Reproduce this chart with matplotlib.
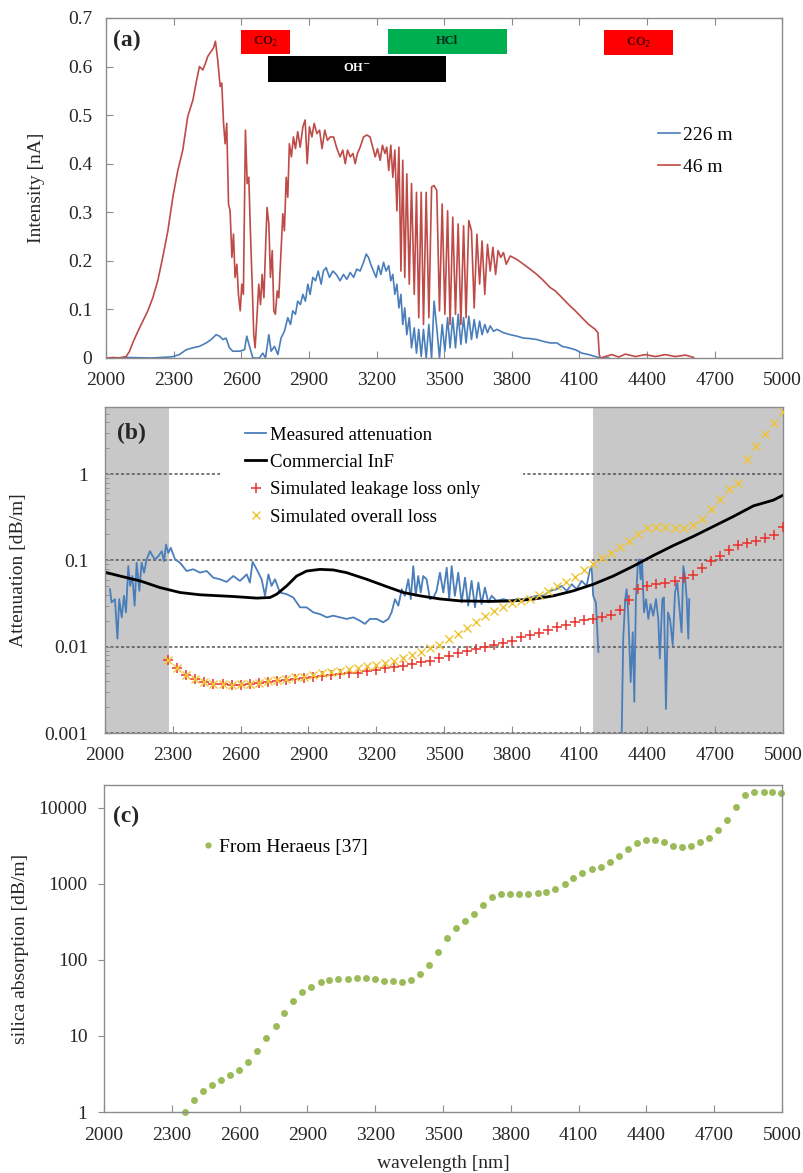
import numpy as np
import matplotlib
matplotlib.use("Agg")
import matplotlib.pyplot as plt
from matplotlib.patches import Rectangle
from matplotlib.ticker import FuncFormatter, LogLocator, NullFormatter

plt.rcParams['font.family'] = ['Liberation Serif', 'DejaVu Serif']
plt.rcParams['font.size'] = 14

# ---------------- data: panel (a) intensity spectra ----------------
wl_46m = [2000, 2030, 2059, 2089, 2104, 2118, 2141, 2163, 2185, 2207, 2229, 2251, 2274, 2296,
          2318, 2340, 2362, 2385, 2399, 2414, 2429, 2441, 2451, 2466, 2476, 2485, 2495, 2506,
          2513, 2521, 2528, 2535, 2543, 2550, 2558, 2565, 2572, 2580, 2587, 2595, 2602, 2609,
          2618, 2626, 2633, 2640, 2648, 2655, 2661, 2669, 2677, 2685, 2692, 2700, 2707, 2714,
          2722, 2729, 2737, 2744, 2751, 2759, 2766, 2776, 2784, 2791, 2799, 2806, 2813, 2822,
          2831, 2840, 2850, 2861, 2873, 2883, 2892, 2902, 2913, 2923, 2935, 2947, 2958, 2970,
          2982, 2994, 3009, 3024, 3038, 3050, 3061, 3071, 3083, 3095, 3105, 3115, 3127, 3142,
          3157, 3171, 3183, 3194, 3204, 3216, 3226, 3237, 3245, 3254, 3263, 3272, 3281, 3290,
          3299, 3308, 3316, 3325, 3334, 3345, 3355, 3367, 3377, 3387, 3398, 3408, 3420, 3432,
          3444, 3455, 3467, 3479, 3491, 3503, 3515, 3526, 3538, 3550, 3562, 3574, 3586, 3597,
          3609, 3621, 3633, 3645, 3657, 3668, 3680, 3692, 3704, 3716, 3728, 3739, 3751, 3763,
          3775, 3793, 3822, 3852, 3881, 3911, 3941, 3970, 3993, 4023, 4052, 4082, 4111, 4141,
          4170, 4182, 4188, 4193, 4215, 4244, 4274, 4304, 4348, 4392, 4437, 4481, 4525, 4570, 4607]
int_46m = [0.0, 0.001, 0.0, 0.003, 0.014, 0.031, 0.055, 0.076, 0.097, 0.124, 0.159, 0.207, 0.262, 0.331,
           0.386, 0.428, 0.497, 0.531, 0.566, 0.600, 0.593, 0.607, 0.621, 0.631, 0.638, 0.652, 0.614, 0.559,
           0.566, 0.483, 0.441, 0.483, 0.317, 0.303, 0.207, 0.255, 0.166, 0.193, 0.131, 0.097, 0.152, 0.131,
           0.469, 0.359, 0.372, 0.262, 0.152, 0.048, 0.021, 0.083, 0.152, 0.110, 0.172, 0.124, 0.221, 0.310,
           0.276, 0.166, 0.221, 0.097, 0.090, 0.138, 0.124, 0.221, 0.297, 0.262, 0.372, 0.331, 0.441, 0.414,
           0.455, 0.431, 0.466, 0.434, 0.476, 0.490, 0.400, 0.476, 0.455, 0.483, 0.462, 0.469, 0.431, 0.469,
           0.448, 0.455, 0.455, 0.431, 0.414, 0.428, 0.400, 0.428, 0.414, 0.421, 0.400, 0.421, 0.434, 0.455,
           0.459, 0.455, 0.434, 0.414, 0.431, 0.407, 0.438, 0.421, 0.434, 0.386, 0.438, 0.372, 0.428, 0.303,
           0.434, 0.179, 0.407, 0.166, 0.379, 0.152, 0.359, 0.131, 0.341, 0.083, 0.341, 0.069, 0.341, 0.083,
           0.352, 0.355, 0.345, 0.097, 0.317, 0.090, 0.303, 0.069, 0.290, 0.090, 0.276, 0.069, 0.272, 0.083,
           0.283, 0.262, 0.103, 0.255, 0.152, 0.241, 0.131, 0.234, 0.179, 0.228, 0.172, 0.221, 0.207, 0.217,
           0.193, 0.210, 0.203, 0.193, 0.183, 0.172, 0.159, 0.145, 0.138, 0.124, 0.110, 0.097, 0.083, 0.069,
           0.059, 0.052, 0.007, 0.0, 0.003, 0.007, 0.002, 0.008, 0.003, 0.007, 0.003, 0.007, 0.003, 0.006, 0.001]

wl_226m = [2000, 2100, 2200, 2280, 2296, 2325, 2355, 2385, 2414, 2444, 2466, 2488, 2503, 2518,
           2532, 2547, 2562, 2592, 2614, 2624, 2636, 2651, 2680, 2695, 2707, 2722, 2732, 2747,
           2762, 2776, 2791, 2806, 2818, 2828, 2840, 2850, 2862, 2873, 2884, 2895, 2905, 2917,
           2929, 2941, 2954, 2964, 2976, 2991, 3006, 3021, 3038, 3053, 3068, 3083, 3098, 3112,
           3127, 3142, 3154, 3164, 3174, 3186, 3198, 3208, 3219, 3231, 3242, 3254, 3263, 3272,
           3281, 3290, 3299, 3308, 3316, 3325, 3334, 3345, 3355, 3367, 3377, 3387, 3398, 3408,
           3420, 3432, 3444, 3455, 3467, 3479, 3491, 3503, 3515, 3526, 3538, 3550, 3562, 3574,
           3586, 3597, 3609, 3621, 3633, 3645, 3657, 3668, 3680, 3692, 3704, 3719, 3734, 3763,
           3793, 3822, 3852, 3881, 3911, 3941, 3970, 4000, 4023, 4052, 4082, 4111, 4141, 4170,
           4193, 4230]
int_226m = [0.0, 0.001, 0.0, 0.002, 0.003, 0.007, 0.017, 0.021, 0.024, 0.031, 0.038, 0.048, 0.045, 0.038,
            0.041, 0.021, 0.014, 0.014, 0.017, 0.045, 0.024, 0.0, 0.0, 0.010, 0.0, 0.048, 0.014, 0.024,
            0.007, 0.041, 0.055, 0.083, 0.069, 0.097, 0.090, 0.117, 0.110, 0.131, 0.117, 0.152, 0.131, 0.166,
            0.159, 0.179, 0.152, 0.179, 0.186, 0.166, 0.179, 0.172, 0.159, 0.172, 0.162, 0.176, 0.166, 0.183,
            0.179, 0.197, 0.214, 0.207, 0.193, 0.179, 0.166, 0.190, 0.172, 0.197, 0.179, 0.190, 0.159, 0.172,
            0.131, 0.152, 0.103, 0.131, 0.069, 0.103, 0.048, 0.083, 0.021, 0.062, 0.010, 0.059, 0.003, 0.059,
            0.0, 0.069, 0.0, 0.117, 0.062, 0.0, 0.069, 0.014, 0.083, 0.021, 0.083, 0.021, 0.090, 0.028,
            0.083, 0.031, 0.086, 0.038, 0.079, 0.041, 0.076, 0.048, 0.069, 0.052, 0.066, 0.055, 0.059, 0.052,
            0.048, 0.045, 0.041, 0.040, 0.038, 0.034, 0.031, 0.031, 0.024, 0.021, 0.017, 0.010, 0.007, 0.003,
            0.0, 0.0]

band_labels = ['CO$_2$', 'OH$^{-}$', 'HCl', 'CO$_2$']
band_start = [2599, 2720, 3249, 4211]
band_end = [2817, 3509, 3778, 4513]
band_low = [0.626, 0.568, 0.626, 0.623]
band_high = [0.676, 0.621, 0.678, 0.676]
band_colors = ['#ff0000', '#000000', '#00b050', '#ff0000']
band_text_colors = ['#4a0000', '#ffffff', '#002a14', '#4a0000']

# ---------------- data: panel (b) attenuation ----------------
wl_meas = [2022, 2029, 2044, 2055, 2063, 2074, 2084, 2093, 2103, 2111, 2121, 2131, 2140, 2152,
           2162, 2173, 2184, 2199, 2211, 2221, 2236, 2251, 2261, 2270, 2280, 2291, 2310, 2332,
           2361, 2391, 2420, 2450, 2479, 2509, 2538, 2568, 2597, 2627, 2641, 2653, 2671, 2693,
           2708, 2723, 2737, 2752, 2774, 2804, 2833, 2863, 2892, 2922, 2951, 2981, 3010, 3040,
           3069, 3099, 3128, 3150, 3172, 3202, 3231, 3254, 3268, 3283, 3298, 3313, 3327, 3342,
           3353, 3364, 3375, 3386, 3397, 3408, 3423, 3438, 3453, 3467, 3482, 3497, 3512, 3523,
           3534, 3548, 3563, 3578, 3593, 3607, 3622, 3637, 3652, 3666, 3681, 3696, 3711, 3733,
           3762, 3792, 3821, 3851, 3880, 3910, 3939, 3969, 3998, 4020, 4043, 4065, 4087, 4109,
           4131, 4146, 4153, 4160, 4172, 4183, 4230, 4286, 4293, 4302, 4308, 4315, 4326, 4335,
           4342, 4349, 4358, 4364, 4370, 4376, 4385, 4394, 4404, 4414, 4426, 4438, 4448, 4455,
           4466, 4473, 4482, 4491, 4500, 4512, 4522, 4532, 4541, 4551, 4559, 4566, 4574, 4581, 4585]
att_meas = [0.0464, 0.0326, 0.0356, 0.0124, 0.0356, 0.0219, 0.0389, 0.025, 0.0859, 0.0507, 0.066, 0.0299,
            0.094, 0.0444, 0.094, 0.0722, 0.1027, 0.128, 0.112, 0.103, 0.112, 0.128, 0.098, 0.153,
            0.122, 0.14, 0.103, 0.094, 0.0755, 0.079, 0.0722, 0.0755, 0.0632, 0.0605, 0.0564, 0.066,
            0.0579, 0.069, 0.0554, 0.0964, 0.079, 0.0605, 0.0389, 0.069, 0.0507, 0.0605, 0.0425, 0.0406,
            0.0372, 0.0286, 0.0286, 0.025, 0.0239, 0.0219, 0.0229, 0.0219, 0.021, 0.0219, 0.02, 0.0184,
            0.021, 0.021, 0.0192, 0.021, 0.025, 0.0356, 0.0299, 0.0464, 0.0389, 0.0605, 0.0356, 0.0859,
            0.0389, 0.066, 0.0425, 0.066, 0.0605, 0.0356, 0.0372, 0.0444, 0.0722, 0.0425, 0.0823, 0.0356,
            0.0859, 0.0389, 0.0722, 0.0326, 0.0632, 0.0299, 0.0579, 0.0286, 0.0554, 0.0312, 0.0485, 0.0326,
            0.0389, 0.034, 0.0356, 0.034, 0.0356, 0.0356, 0.0372, 0.0389, 0.0389, 0.0444, 0.0464, 0.0507,
            0.0444, 0.053, 0.0464, 0.0579, 0.0507, 0.079, 0.0859, 0.0389, 0.0326, 0.0087, np.nan, 0.0009,
            0.0124, 0.0356, 0.0464, 0.025, 0.0039, 0.0147, 0.0023, 0.0356, 0.094, 0.1027, 0.0605, 0.1027,
            0.025, 0.0356, 0.021, 0.0312, 0.0229, 0.0356, 0.021, 0.0073, 0.0356, 0.0372, 0.0019, 0.025,
            0.021, 0.0104, 0.0425, 0.0554, 0.0299, 0.0147, 0.0859, 0.066, 0.0356, 0.0124, 0.0356]

wl_inf = [2000, 2066, 2155, 2243, 2332, 2420, 2568, 2671, 2730, 2760, 2804, 2848, 2892, 2951,
          3010, 3069, 3158, 3246, 3320, 3394, 3482, 3571, 3704, 3807, 3895, 3984, 4072, 4161,
          4249, 4338, 4426, 4515, 4603, 4692, 4780, 4869, 4957, 5000]
att_inf = [0.073, 0.066, 0.058, 0.0485, 0.0425, 0.040, 0.0382, 0.0366, 0.0372, 0.0407, 0.0507, 0.066,
           0.0754, 0.0788, 0.0776, 0.0722, 0.0605, 0.0498, 0.0425, 0.0389, 0.0358, 0.034, 0.0335, 0.034,
           0.0356, 0.0389, 0.0444, 0.053, 0.066, 0.086, 0.114, 0.149, 0.19, 0.248, 0.323, 0.429, 0.50, 0.57]

wl_sim = [2280, 2320, 2360, 2400, 2440, 2480, 2520, 2560, 2600, 2640, 2680, 2720, 2760, 2800,
          2840, 2880, 2920, 2960, 3000, 3040, 3080, 3120, 3160, 3200, 3240, 3280, 3320, 3360,
          3400, 3440, 3480, 3520, 3560, 3600, 3640, 3680, 3720, 3760, 3800, 3840, 3880, 3920,
          3960, 4000, 4040, 4080, 4120, 4160, 4200, 4240, 4280, 4320, 4360, 4400, 4440, 4480,
          4520, 4560, 4600, 4640, 4680, 4720, 4760, 4800, 4840, 4880, 4920, 4960, 5000]
leak_loss = [0.0071, 0.0056, 0.0047, 0.0042, 0.0039, 0.0037, 0.0037, 0.0036, 0.0036, 0.0037, 0.0038,
             0.0039, 0.0040, 0.0041, 0.0042, 0.0043, 0.0044, 0.0046, 0.0047, 0.0048, 0.0049, 0.0050,
             0.0052, 0.0054, 0.0056, 0.0058, 0.0060, 0.0063, 0.0066, 0.0069, 0.0074, 0.0079, 0.0085,
             0.0090, 0.0094, 0.0099, 0.0104, 0.0110, 0.0118, 0.0128, 0.0137, 0.0146, 0.0157, 0.0168,
             0.0179, 0.0191, 0.0203, 0.0212, 0.0221, 0.0233, 0.0270, 0.0350, 0.0470, 0.0510, 0.0530,
             0.0555, 0.0585, 0.0620, 0.0680, 0.0810, 0.0980, 0.112, 0.132, 0.152, 0.160, 0.166,
             0.180, 0.198, 0.245]
overall_loss = [0.0071, 0.0056, 0.0047, 0.0042, 0.0039, 0.0037, 0.0037, 0.0036, 0.0037, 0.0037, 0.0038,
                0.0040, 0.0041, 0.0042, 0.0044, 0.0045, 0.0047, 0.0049, 0.0051, 0.0053, 0.0055, 0.0057,
                0.0060, 0.0062, 0.0065, 0.0069, 0.0074, 0.0080, 0.0088, 0.0097, 0.0105, 0.0122, 0.0142,
                0.0165, 0.0195, 0.0225, 0.0258, 0.0290, 0.0320, 0.0340, 0.0360, 0.0400, 0.0440, 0.0500,
                0.0560, 0.0650, 0.0770, 0.0920, 0.106, 0.123, 0.145, 0.170, 0.200, 0.235, 0.245,
                0.245, 0.240, 0.238, 0.260, 0.300, 0.390, 0.520, 0.680, 0.800, 1.50, 2.10,
                2.95, 3.90, 5.20]

shade_spans = [(2000, 2285), (4160, 5000)]

# ---------------- data: panel (c) silica absorption ----------------
wl_silica = [2358, 2399, 2437, 2478, 2519, 2559, 2598, 2639, 2677, 2718, 2759, 2797, 2838, 2877,
             2917, 2958, 2997, 3037, 3078, 3119, 3157, 3198, 3239, 3277, 3318, 3359, 3397, 3438,
             3479, 3517, 3558, 3597, 3637, 3678, 3717, 3757, 3798, 3837, 3877, 3918, 3957, 3997,
             4038, 4077, 4117, 4158, 4197, 4237, 4278, 4317, 4357, 4398, 4439, 4477, 4517, 4558,
             4597, 4637, 4677, 4717, 4757, 4797, 4837, 4877, 4918, 4957, 4996]
abs_silica = [1.0, 1.45, 1.89, 2.26, 2.66, 3.07, 3.57, 4.5, 6.3, 9.4, 13.4, 20.1, 29.2, 37.9,
              44.2, 50.8, 55.1, 56.2, 56.8, 57.4, 57.4, 55.7, 53.5, 52.4, 50.8, 54.6, 65.4, 85,
              126, 193, 263, 323, 403, 534, 668, 746, 746, 738, 738, 754, 785, 860,
              990, 1188, 1410, 1560, 1690, 1946, 2333, 2915, 3500, 3830, 3830, 3570, 3190, 3035,
              3130, 3535, 4070, 5080, 7010, 10400, 14800, 16100, 16100, 16100, 15700]

xticks = [2000, 2300, 2600, 2900, 3200, 3500, 3800, 4100, 4400, 4700, 5000]

blue = '#4a7ebb'
dark_red = '#be4b48'
spine_col = '#8c8c8c'
text_col = '#262626'

fig = plt.figure(figsize=(8.04, 11.73), dpi=100)
ax_a = fig.add_axes([0.132, 0.6948, 0.841, 0.2899])
ax_b = fig.add_axes([0.1306, 0.3751, 0.8433, 0.2779])
ax_c = fig.add_axes([0.1294, 0.052, 0.8433, 0.2788])


def style(ax):
    for s in ax.spines.values():
        s.set_color(spine_col)
        s.set_linewidth(1.0)
    ax.set_xlim(2000, 5000)
    ax.set_xticks(xticks)
    ax.tick_params(colors=spine_col, labelcolor=text_col, labelsize=14)


# ---- (a)
style(ax_a)
ax_a.plot(wl_226m, int_226m, color=blue, lw=1.2, label='226 m')
ax_a.plot(wl_46m, int_46m, color=dark_red, lw=1.2, label='46 m')
ax_a.set_ylim(0, 0.7)
ax_a.set_yticks([0, 0.1, 0.2, 0.3, 0.4, 0.5, 0.6, 0.7])
ax_a.yaxis.set_major_formatter(FuncFormatter(lambda v, p: f"{v:g}"))
ax_a.tick_params(axis='x', direction='in', top=True, length=5, pad=10)
ax_a.tick_params(axis='y', direction='in', length=5, pad=10)
ax_a.set_ylabel('Intensity [nA]', fontsize=14, color=text_col)
ax_a.yaxis.set_label_coords(-0.09, 0.5)
for lab, x0, x1, y0, y1, fc, tc in zip(band_labels, band_start, band_end, band_low, band_high,
                                       band_colors, band_text_colors):
    ax_a.add_patch(Rectangle((x0, y0), x1 - x0, y1 - y0, facecolor=fc, edgecolor='none', zorder=3))
    ax_a.text((x0 + x1) / 2, (y0 + y1) / 2, lab, ha='center', va='center', fontsize=9,
              fontweight='bold', color=tc, zorder=4)
ax_a.text(0.01, 0.935, '(a)', transform=ax_a.transAxes, fontsize=17, fontweight='bold',
          ha='left', va='center', color=text_col)
ax_a.legend(loc='upper left', bbox_to_anchor=(0.805, 0.705), frameon=False, fontsize=14,
            handlelength=1.1, handletextpad=0.15, labelspacing=0.75, borderaxespad=0)

# ---- (b)
style(ax_b)
ax_b.set_yscale('log')
ax_b.set_ylim(0.001, 6)
for x0, x1 in shade_spans:
    ax_b.axvspan(x0, x1, color='#c8c8c8', lw=0, zorder=0.5)
# white block behind the legend, hiding the dotted 1 dB/m line as in the original
ax_b.add_patch(Rectangle((0.17, 0.64), 0.447, 0.345, transform=ax_b.transAxes,
                         facecolor='white', edgecolor='none', zorder=1.8))
ax_b.plot(wl_meas, att_meas, color=blue, lw=1.3, label='Measured attenuation', zorder=2)
ax_b.plot(wl_inf, att_inf, color='black', lw=2.0, label='Commercial InF', zorder=2.2)
ax_b.plot(wl_sim, leak_loss, ls='none', marker='+', ms=7, mew=1.1, color='#e8322b',
          label='Simulated leakage loss only', zorder=3)
ax_b.plot(wl_sim, overall_loss, ls='none', marker='x', ms=6, mew=1.0, color='#f0c430',
          label='Simulated overall loss', zorder=3)
ax_b.set_yticks([0.001, 0.01, 0.1, 1])
ax_b.yaxis.set_major_formatter(FuncFormatter(lambda v, p: f"{v:g}"))
ax_b.yaxis.set_minor_locator(LogLocator(base=10, subs=np.arange(2, 10)))
ax_b.yaxis.set_minor_formatter(NullFormatter())
ax_b.grid(axis='y', which='major', color='#555555', ls=(0, (2, 1.5)), lw=1.1)
ax_b.tick_params(axis='x', direction='in', length=5, pad=10)
ax_b.tick_params(axis='y', which='major', direction='in', length=5, pad=12)
ax_b.tick_params(axis='y', which='minor', direction='in', length=3, color=spine_col)
ax_b.set_ylabel('Attenuation [dB/m]', fontsize=14, color=text_col)
ax_b.yaxis.set_label_coords(-0.115, 0.5)
ax_b.text(0.018, 0.92, '(b)', transform=ax_b.transAxes, fontsize=17, fontweight='bold',
          ha='left', va='center', color=text_col)
leg = ax_b.legend(loc='upper left', bbox_to_anchor=(0.2, 0.955), frameon=False, fontsize=13.5,
                  handlelength=1.1, handletextpad=0.2, labelspacing=0.55, borderpad=0.25,
                  borderaxespad=0)
leg.set_zorder(5)

# ---- (c)
style(ax_c)
ax_c.set_yscale('log')
ax_c.set_ylim(1, 20000)
ax_c.plot(wl_silica, abs_silica, ls='none', marker='o', ms=5, color='#9bbb59', mec='none',
          label='From Heraeus [37]', clip_on=False)
ax_c.set_yticks([1, 10, 100, 1000, 10000])
ax_c.yaxis.set_major_formatter(FuncFormatter(lambda v, p: f"{v:g}"))
ax_c.yaxis.set_minor_locator(plt.NullLocator())
ax_c.tick_params(axis='x', direction='in', length=5, pad=11)
ax_c.tick_params(axis='y', direction='out', length=4, pad=8)
ax_c.set_ylabel('silica absorption [dB/m]', fontsize=14, color=text_col)
ax_c.yaxis.set_label_coords(-0.11, 0.5)
ax_c.set_xlabel('wavelength [nm]', fontsize=14, color=text_col, labelpad=8)
ax_c.text(0.013, 0.905, '(c)', transform=ax_c.transAxes, fontsize=17, fontweight='bold',
          ha='left', va='center', color=text_col)
ax_c.legend(loc='upper left', bbox_to_anchor=(0.13, 0.86), frameon=False, fontsize=14,
            handlelength=0.8, handletextpad=0.2, borderaxespad=0, markerscale=0.9)

fig.savefig('out.png', dpi=100)
